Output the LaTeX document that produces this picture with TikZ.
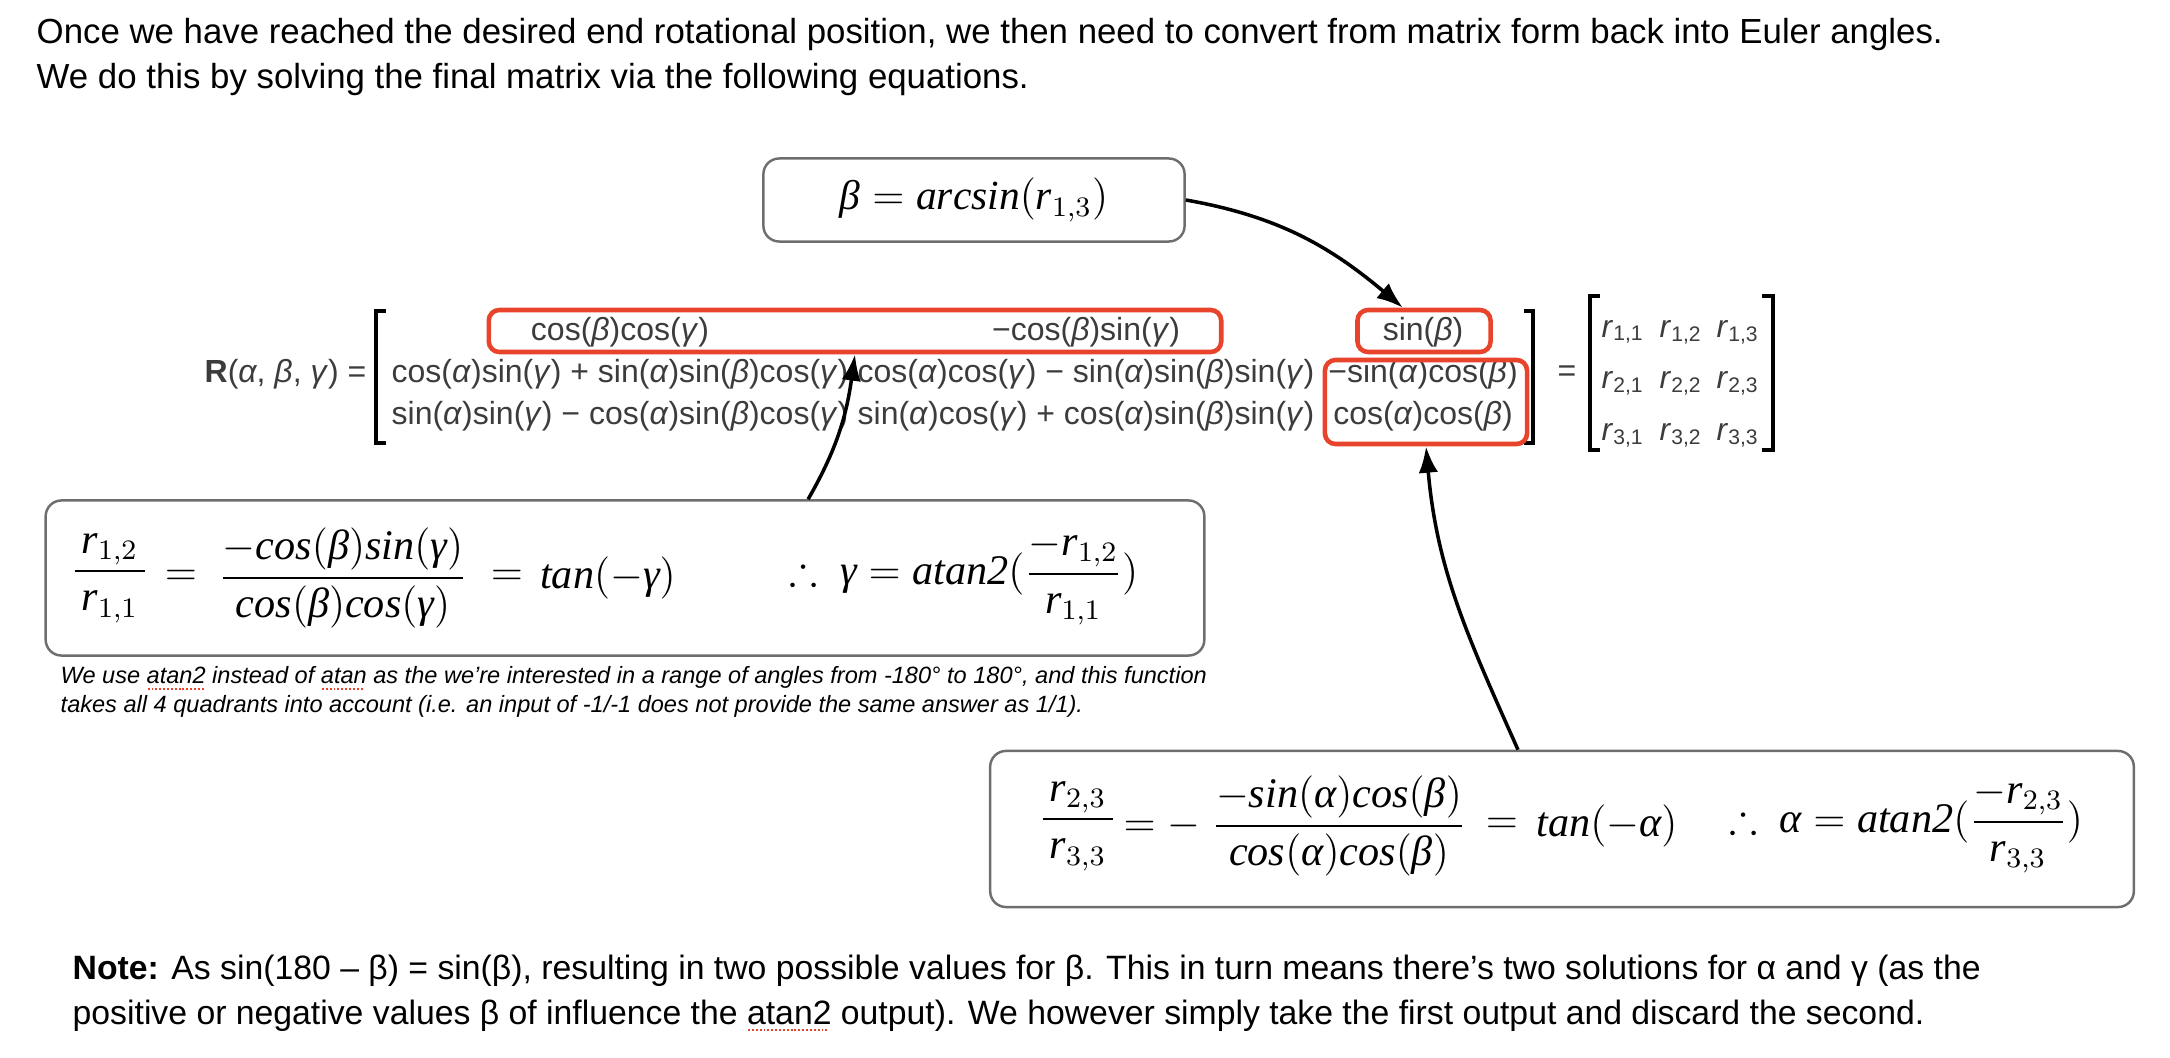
\documentclass[tikz,border=0pt]{standalone}
\usepackage{amsmath,amssymb}
\usepackage{fontspec}
\setmainfont{Liberation Serif}
\setsansfont{Liberation Sans}
\usetikzlibrary{arrows.meta,positioning}
\definecolor{hired}{HTML}{E8442C}
\definecolor{boxln}{HTML}{6E6E6E}
\definecolor{mtx}{HTML}{3C3C3C}
\tikzset{
  every node/.style={inner sep=0pt,font=\sffamily},
  txt/.style={font=\sffamily\fontsize{9.6}{12.8}\selectfont,align=left},
  captxt/.style={font=\sffamily\fontsize{6.7}{8.3}\selectfont\itshape,align=left},
  ent/.style={font=\sffamily\fontsize{9.1}{10}\selectfont,color=mtx},
  rent/.style={font=\sffamily\fontsize{9}{10}\selectfont,color=mtx},
  eqbox/.style={draw=boxln,line width=0.7pt,rounded corners=4.5pt},
  hibox/.style={draw=hired,line width=1.3pt,rounded corners=3pt},
  eqn/.style={font=\rmfamily\fontsize{12}{14}\selectfont},
  ar/.style={-{Latex[length=7.5pt,width=5.5pt]},line width=1pt},
  brk/.style={line width=0.9pt},
}
\newcommand\squig[1]{{\setbox0\hbox{#1}\rlap{\color{hired}\raisebox{-1.8pt}{\hbox to \wd0{\leaders\hbox to 1.1pt{\hss\rule{0.55pt}{0.55pt}\hss}\hfill}}}\box0}}
\newcommand\galpha{\textit{α}}
\newcommand\gbeta{\textit{β}}
\newcommand\ggamma{\textit{γ}}
\newcommand\mi[1]{\mathit{#1}}

\begin{document}
\begin{tikzpicture}[x=0.01cm,y=-0.01cm]
\useasboundingbox (0,0) rectangle (2170,1058);

% intro text
\node[txt,font=\sffamily\fontsize{9.9}{12.6}\selectfont,anchor=west] (intro) at (36,57) {Once we have reached the desired end rotational position, we then need to convert from matrix form back into Euler angles.\\We do this by solving the final matrix via the following equations.};

% beta box
\node[eqbox,minimum width=4.21cm,minimum height=0.83cm,font=\rmfamily\fontsize{11.8}{14}\selectfont] (beta) at (974,200) {$\mi{β} = \mi{arcsin}(\mi{r}_{1,3})$};

% rotation matrix
\node[ent,anchor=east] (rlab) at (367,374) {\textbf{R}(\galpha, \gbeta, \ggamma) =};
\draw[brk] (386,311) -- (376,311) -- (376,443) -- (386,443);
\draw[brk] (1524,311) -- (1533,311) -- (1533,443) -- (1524,443);
\node[ent] (m11) at (620,332) {cos(\gbeta)cos(\ggamma)};
\node[ent] (m12) at (1086,332) {−cos(\gbeta)sin(\ggamma)};
\node[ent] (m13) at (1423,332) {sin(\gbeta)};
\node[ent] (m21) at (620,374) {cos(\galpha)sin(\ggamma) + sin(\galpha)sin(\gbeta)cos(\ggamma)};
\node[ent] (m22) at (1086,374) {cos(\galpha)cos(\ggamma) − sin(\galpha)sin(\gbeta)sin(\ggamma)};
\node[ent] (m23) at (1423,374) {−sin(\galpha)cos(\gbeta)};
\node[ent] (m31) at (620,416) {sin(\galpha)sin(\ggamma) − cos(\galpha)sin(\gbeta)cos(\ggamma)};
\node[ent] (m32) at (1086,416) {sin(\galpha)cos(\ggamma) + cos(\galpha)sin(\gbeta)sin(\ggamma)};
\node[ent] (m33) at (1423,416) {cos(\galpha)cos(\gbeta)};

% highlighted entries
\node[hibox,minimum width=7.32cm,minimum height=0.42cm] (rb1) at (855,331) {};
\node[hibox,minimum width=1.33cm,minimum height=0.42cm] (rb2) at (1424,331) {};
\node[hibox,minimum width=2.02cm,minimum height=0.84cm] (rb3) at (1426,402) {};

% r matrix
\node[ent] (eq) at (1567,374) {=};
\draw[brk] (1600,296) -- (1590,296) -- (1590,450) -- (1600,450);
\draw[brk] (1762,296) -- (1773,296) -- (1773,450) -- (1762,450);
\foreach \i/\y in {1/332,2/383,3/435}
  \foreach \j/\x in {1/1623,2/1681,3/1738}
    \node[rent] (r\i\j) at (\x,\y) {\textit{r}\textsubscript{\i,\j}};

% gamma box
\node[eqbox,minimum width=11.58cm,minimum height=1.55cm] (gbox) at (625,578) {};
\node[eqn] (g1) at (110,578) {$\displaystyle\frac{\,\mi{r}_{1,2}\,}{\,\mi{r}_{1,1}\,}$};
\node[eqn] (g2) at (181,578) {$=$};
\node[eqn] (g3) at (343,578) {$\displaystyle\frac{-\mi{cos}(\mi{β})\mi{sin}(\mi{γ})}{\mi{cos}(\mi{β})\mi{cos}(\mi{γ})}$};
\node[eqn] (g4) at (507,578) {$=$};
\node[eqn] (g5) at (608,578) {$\mi{tan}(-\mi{γ})$};
\node[eqn] (g6) at (964,578) {$\therefore\ \mi{γ} = \mi{atan2}(\displaystyle\frac{-\mi{r}_{1,2}}{\mi{r}_{1,1}})$};
\node[captxt,anchor=west] (note1) at (60,692) {We use \squig{atan2} instead of \squig{atan} as the we’re interested in a range of angles from -180° to 180°, and this function\\takes all 4 quadrants into account (i.e. an input of -1/-1 does not provide the same answer as 1/1).};

% alpha box
\node[eqbox,minimum width=11.43cm,minimum height=1.56cm] (abox) at (1562,829) {};
\node[eqn] (a1) at (1078,826) {$\displaystyle\frac{\,\mi{r}_{2,3}\,}{\,\mi{r}_{3,3}\,}$};
\node[eqn] (a2) at (1162,826) {$=-$};
\node[eqn] (a3) at (1339,826) {$\displaystyle\frac{-\mi{sin}(\mi{α})\mi{cos}(\mi{β})}{\mi{cos}(\mi{α})\mi{cos}(\mi{β})}$};
\node[eqn] (a4) at (1502,826) {$=$};
\node[eqn] (a5) at (1607,826) {$\mi{tan}(-\mi{α})$};
\node[eqn] (a6) at (1906,826) {$\therefore\ \mi{α} = \mi{atan2}(\displaystyle\frac{-\mi{r}_{2,3}}{\mi{r}_{3,3}})$};

% arrows
\draw[ar] (beta.east) to[out=-10,in=140] ([xshift=-6pt]rb2.north);
\draw[ar] ([xshift=1.83cm]gbox.north) to[out=60,in=-98] (rb1.south);
\draw[ar] ([xshift=-0.44cm]abox.north) to[out=114,in=-85] (rb3.south);

% note
\node[txt,anchor=west] (note2) at (72,993) {\textbf{Note:} As sin(180 – β) = sin(β), resulting in two possible values for β. This in turn means there’s two solutions for α and γ (as the\\positive or negative values β of influence the \squig{atan2} output). We however simply take the first output and discard the second.};
\end{tikzpicture}
\end{document}
